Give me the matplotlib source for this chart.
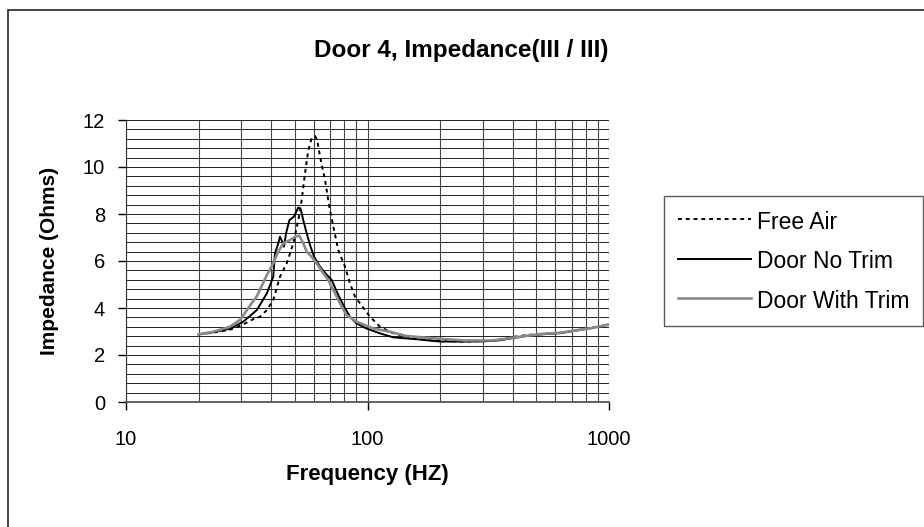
import matplotlib
matplotlib.use("Agg")
import matplotlib.pyplot as plt
from matplotlib.patches import Rectangle
from matplotlib.ticker import FixedLocator, MultipleLocator, NullFormatter

plt.rcParams['font.family'] = ['Liberation Sans', 'DejaVu Sans']

# Free Air (dotted)
free_air_freq = [20, 23, 27, 30.6, 34, 35.9, 38.3, 40.7, 43.4, 46.3, 49.3, 51.7, 53.4, 55.1, 56.9,
                 58.7, 60.6, 61.9, 63.6, 66.7, 69.5, 72.2, 75.7, 78.2, 80.7, 84.6, 88.8, 93.1,
                 102.4, 112.7, 127.9, 145, 175.8, 241.5, 330, 389, 456, 534, 627, 735, 850, 1000]
free_air_z = [2.88, 2.95, 3.08, 3.3, 3.55, 3.63, 3.91, 4.34, 5.33, 5.9, 6.75, 7.74, 8.6, 9.73, 10.72,
              11.22, 11.32, 11.15, 10.44, 9.45, 8.31, 7.46, 6.47, 6.1, 5.76, 5.05, 4.48, 4.2,
              3.63, 3.2, 2.92, 2.78, 2.64, 2.57, 2.6, 2.75, 2.85, 2.9, 2.95, 3.06, 3.15, 3.28]

# Door No Trim (black)
no_trim_freq = [20, 23, 27, 30.6, 34.8, 38.3, 40.7, 41.4, 42.7, 43.4, 44.4, 45.1, 46.0, 47.5, 49.6,
                51.7, 52.9, 54.2, 56.0, 57.8, 60.1, 63.6, 67.3, 71.1, 75.7, 80.7, 84.6, 90, 99,
                112.7, 128, 160, 200, 250, 300, 350, 400, 460, 530, 630, 740, 850, 1000]
no_trim_z = [2.88, 2.97, 3.12, 3.42, 3.91, 4.62, 5.33, 6.33, 6.75, 7.03, 6.82, 6.61, 7.18, 7.74, 7.89,
             8.28, 8.2, 7.74, 7.18, 6.68, 6.18, 5.76, 5.45, 5.19, 4.55, 3.99, 3.63, 3.35, 3.13,
             2.92, 2.75, 2.67, 2.57, 2.57, 2.58, 2.62, 2.72, 2.82, 2.88, 2.93, 3.05, 3.15, 3.3]

# Door With Trim (gray)
trim_freq = [20, 23, 26.9, 29.7, 32.6, 34.8, 38.3, 40.7, 42.7, 44.8, 47.8, 50.1, 52.2, 54.2, 56,
             58.7, 61.6, 65.6, 68.8, 73.4, 78.2, 82, 90, 105.6, 123.7, 145, 187, 250, 330, 390,
             460, 530, 630, 740, 850, 1000]
trim_z = [2.88, 2.99, 3.2, 3.5, 4.1, 4.5, 5.4, 5.9, 6.4, 6.75, 6.89, 7.03, 7.08, 6.75, 6.4,
          6.18, 5.9, 5.48, 5.19, 4.62, 4.06, 3.7, 3.42, 3.13, 2.99, 2.81, 2.71, 2.62, 2.62, 2.72,
          2.82, 2.9, 2.95, 3.06, 3.15, 3.3]

x_ticks = [10, 100, 1000]
x_minor = [m * d for d in (10, 100) for m in range(2, 10)]

fig = plt.figure(figsize=(9.24, 5.27), dpi=100)
ax = fig.add_axes([126 / 924, 1 - 402 / 527, (609 - 126) / 924, (402 - 120) / 527])

ax.plot(free_air_freq, free_air_z, color='black', linestyle=(0, (2, 2)), linewidth=1.4, label='Free Air')
ax.plot(no_trim_freq, no_trim_z, color='black', linewidth=1.4, label='Door No Trim')
ax.plot(trim_freq, trim_z, color='#8a8a8a', linewidth=1.9, label='Door With Trim')

ax.set_xscale('log')
ax.set_xlim(10, 1000)
ax.set_ylim(0, 12)

# grid: every 0.4 ohm and every log step
ax.yaxis.set_major_locator(MultipleLocator(2))
ax.yaxis.set_minor_locator(MultipleLocator(0.4))
ax.xaxis.set_major_locator(FixedLocator(x_ticks))
ax.xaxis.set_minor_locator(FixedLocator(x_minor))
ax.xaxis.set_minor_formatter(NullFormatter())
ax.set_xticklabels([str(t) for t in x_ticks])
ax.grid(True, which='both', axis='y', color='#222222', linewidth=0.7)
ax.grid(True, which='both', axis='x', color='#444444', linewidth=0.8)
ax.set_axisbelow(True)

ax.tick_params(axis='both', which='major', direction='out', length=6, width=1, labelsize=14.5)
ax.tick_params(axis='x', which='major', pad=14)
ax.tick_params(axis='y', which='major', pad=9)
ax.tick_params(which='minor', length=0)

ax.spines['top'].set_visible(False)
ax.spines['right'].set_visible(False)
ax.spines['left'].set_color('#333333')
ax.spines['bottom'].set_color('#555555')
ax.spines['bottom'].set_linewidth(1.3)

ax.set_xlabel('Frequency (HZ)', fontsize=16, fontweight='bold', labelpad=11)
ax.set_ylabel('Impedance (Ohms)', fontsize=15, fontweight='bold', labelpad=17)

fig.text(0.499, 0.904, 'Door 4, Impedance(III / III)', ha='center', va='center',
         fontsize=17.5, fontweight='bold')

leg = fig.legend(loc='upper left', bbox_to_anchor=(664 / 924, 1 - 196 / 527),
                 bbox_transform=fig.transFigure, fontsize=16.5, frameon=True, fancybox=False,
                 handlelength=3.2, handleheight=1.2, handletextpad=0.25, labelspacing=0.64,
                 borderpad=0.6, borderaxespad=0)
leg.get_frame().set_edgecolor('#333333')
leg.get_frame().set_linewidth(1)

# outer chart border (right and bottom edges fall outside the image)
fig.patches.append(Rectangle((8 / 924, -0.1), 1.2, 1 - 10 / 527 + 0.1, transform=fig.transFigure,
                             fill=False, edgecolor='#222222', linewidth=1.2))

plt.savefig('out.png', dpi=100)
